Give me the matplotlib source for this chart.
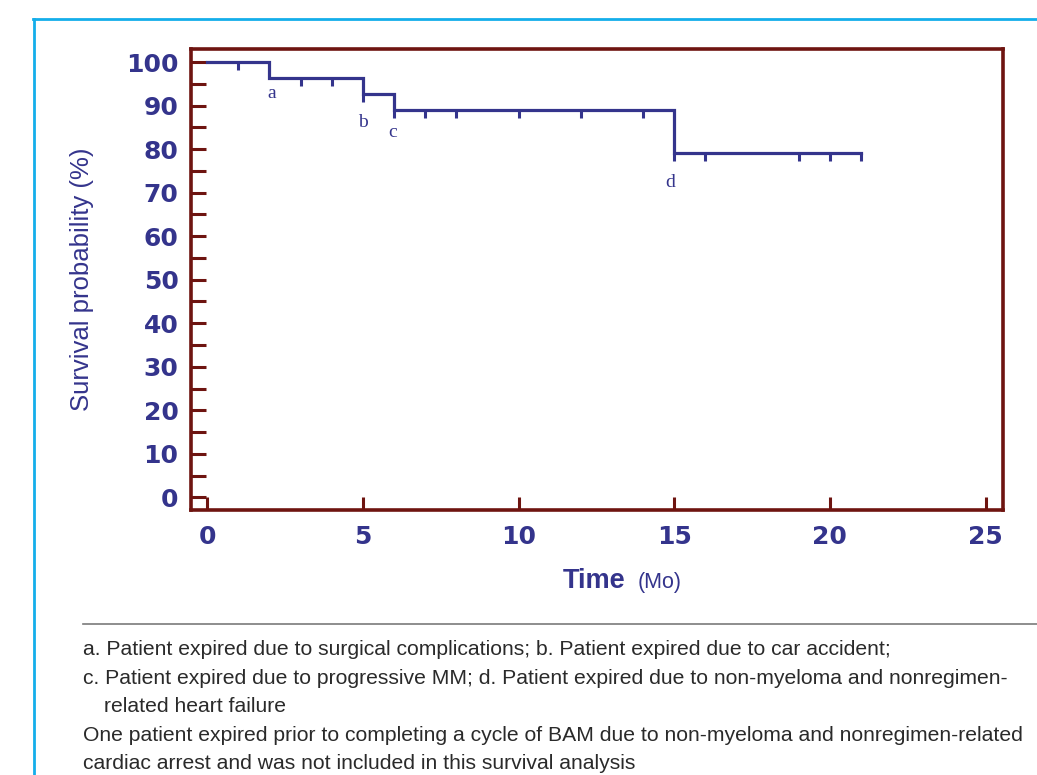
import matplotlib
matplotlib.use("Agg")
import matplotlib.pyplot as plt
import numpy as np
from matplotlib.lines import Line2D
from matplotlib.path import Path
from matplotlib.ticker import MultipleLocator

# Kaplan-Meier curve (months, % surviving)
step_times = [0, 2, 5, 6, 15, 21]
step_surv = [100, 96.3, 92.6, 88.9, 79.0, 79.0]
censor_times = [1, 3, 4, 5, 6, 7, 8, 10, 12, 14, 15, 16, 19, 20, 21]
event_times = [2, 5, 6, 15]
event_labels = ["a", "b", "c", "d"]

x_ticks = [0, 5, 10, 15, 20, 25]
y_ticks = [0, 10, 20, 30, 40, 50, 60, 70, 80, 90, 100]

footnotes = [
    "a. Patient expired due to surgical complications; b. Patient expired due to car accident;",
    "c. Patient expired due to progressive MM; d. Patient expired due to non-myeloma and nonregimen-",
    "related heart failure",
    "One patient expired prior to completing a cycle of BAM due to non-myeloma and nonregimen-related",
    "cardiac arrest and was not included in this survival analysis",
]

NAVY = "#34348c"
MAROON = "#6e1410"
FRAME = "#14aeea"
W, H = 1037, 775

fig = plt.figure(figsize=(W / 100, H / 100), dpi=100)
ax = fig.add_axes([191 / W, 1 - 510 / H, (1003 - 191) / W, (510 - 49) / H])

ax.step(step_times, step_surv, where="post", color=NAVY, lw=2.3, solid_joinstyle="miter")

# censoring marks hang below the curve
tick_down = Path([(0, 0), (0, -1)], [Path.MOVETO, Path.LINETO])
idx = np.searchsorted(step_times, censor_times, side="right") - 1
censor_surv = np.array(step_surv)[idx]
ax.plot(censor_times, censor_surv, ls="none", marker=tick_down, ms=11.5,
        mew=2.2, color=NAVY)

ev_surv = np.array(step_surv)[np.searchsorted(step_times, event_times, side="right") - 1]
label_offsets = [(1.5, -11), (0, -20.5), (-0.7, -16), (-3, -21)]
for t, s, lab, off in zip(event_times, ev_surv, event_labels, label_offsets):
    ax.annotate(lab, xy=(t, s), xytext=off, textcoords="offset points",
                ha="center", va="center", color=NAVY, fontsize=14,
                family="Liberation Serif")

ax.set_xlim(-0.52, 25.56)
ax.set_ylim(-2.9, 103)
ax.set_xticks(x_ticks)
ax.set_yticks(y_ticks)
ax.yaxis.set_minor_locator(MultipleLocator(5))
ax.tick_params(axis="both", which="both", direction="in", color=MAROON, width=2.2,
               labelcolor=NAVY)
ax.tick_params(axis="y", which="both", length=11, pad=9)
ax.tick_params(axis="x", length=9.5, pad=11)
ax.tick_params(top=False, right=False)
for lab in ax.get_xticklabels() + ax.get_yticklabels():
    lab.set_fontsize(18)
    lab.set_fontweight("bold")
    lab.set_family("DejaVu Sans")

for sp in ax.spines.values():
    sp.set_color(MAROON)
    sp.set_linewidth(2.6)

fig.text(82 / W, 1 - 279 / H, "Survival probability (%)", rotation=90,
         ha="center", va="center", color=NAVY, fontsize=18.5,
         family="Liberation Sans")
fig.text(563 / W, 1 - 588 / H, "Time", ha="left", va="baseline", color=NAVY,
         fontsize=19.5, fontweight="bold", family="Liberation Sans")
fig.text(638 / W, 1 - 588 / H, "(Mo)", ha="left", va="baseline", color=NAVY,
         fontsize=15.5, family="Liberation Sans")

# blue frame round the exhibit
fig.add_artist(Line2D([34 / W, 34 / W], [0, 1 - 19 / H], color=FRAME, lw=2,
                      transform=fig.transFigure))
fig.add_artist(Line2D([33 / W, 1], [1 - 19 / H, 1 - 19 / H], color=FRAME, lw=2,
                      transform=fig.transFigure))

# footnote rule and notes
fig.add_artist(Line2D([83 / W, 1], [1 - 624 / H, 1 - 624 / H], color="#7a7a7a",
                      lw=1.2, transform=fig.transFigure))
baselines = [655, 684, 712, 741, 769]
lefts = [83, 83, 104, 83, 83]
for txt, yb, xl in zip(footnotes, baselines, lefts):
    fig.text(xl / W, 1 - yb / H, txt, ha="left", va="baseline", color="#2a2a2a",
             fontsize=15.2, family="Liberation Sans")

fig.savefig("out.png", dpi=100)
